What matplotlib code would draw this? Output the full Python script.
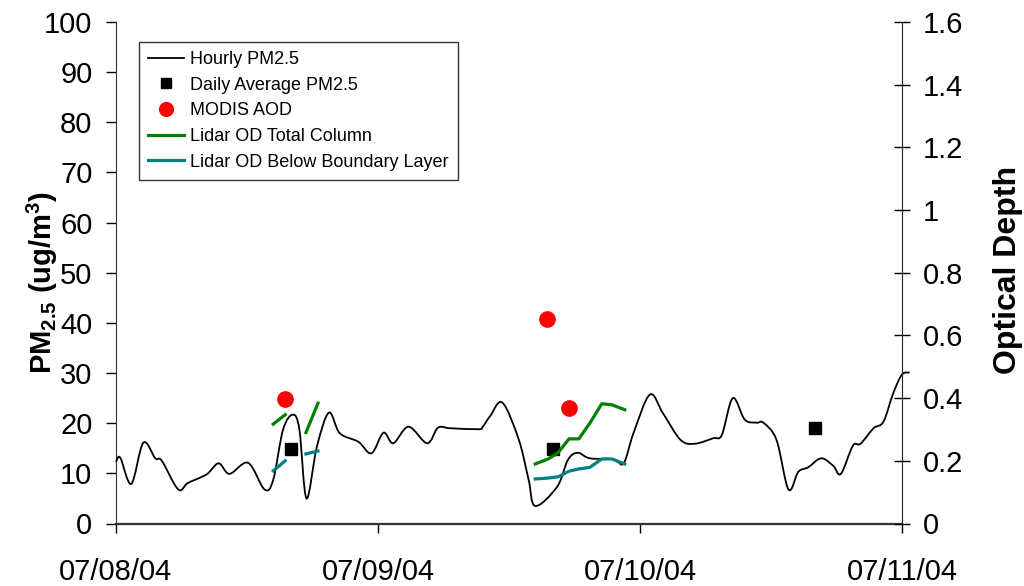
import numpy as np
import matplotlib
matplotlib.use("Agg")
import matplotlib.pyplot as plt
from matplotlib.path import Path
from matplotlib.patches import PathPatch
from matplotlib.lines import Line2D

plt.rcParams['font.family'] = ['Liberation Sans', 'DejaVu Sans']
plt.rcParams['mathtext.fontset'] = 'custom'
plt.rcParams['mathtext.rm'] = 'Liberation Sans:bold'
plt.rcParams['mathtext.default'] = 'rm'

# hours since 07/08/04 00:00
hourly_t = [0.0, 0.4, 1.4, 2.5, 3.6, 4.2, 5.7, 6.6, 8.3, 9.4, 10.4, 12.1, 13.6, 14.4,
            15.3, 16.2, 16.8, 17.45, 18.4, 19.5, 20.5, 22.2, 23.4, 24.5, 25.4, 26.8,
            28.5, 29.5, 30.6, 33.2, 33.6, 34.3, 35.4, 36.9, 37.8, 38.4, 40.4, 41.4,
            42.3, 43.4, 45.6, 46.5, 47.4, 48.9, 50.1, 51.7, 53.0, 54.7, 55.5, 56.5,
            57.6, 58.7, 59.3, 60.5, 61.6, 62.5, 63.4, 64.6, 65.7, 66.4, 67.5, 68.2,
            69.4, 70.3, 71.2, 72.0, 72.7]
hourly_pm = [12.3, 13.1, 7.9, 16.1, 13.0, 12.5, 6.8, 8.1, 9.8, 12.0, 9.9, 12.1, 6.8, 8.7,
             18.7, 21.7, 18.7, 5.0, 15.3, 22.1, 18.0, 16.3, 14.0, 18.1, 16.0, 19.3,
             16.0, 19.1, 19.0, 18.8, 19.3, 21.5, 24.1, 16.7, 8.7, 3.5, 7.3, 12.7,
             14.1, 13.0, 12.8, 12.0, 18.0, 25.7, 22.0, 16.7, 15.9, 17.0, 17.7, 25.0,
             20.7, 20.1, 20.1, 16.7, 6.8, 10.3, 11.2, 13.0, 11.5, 9.9, 15.5, 15.9,
             19.0, 20.3, 26.0, 29.7, 30.1]

daily_t = [16, 40, 64]
daily_pm = [14.8, 14.8, 19.1]

modis_t = [15.5, 39.5, 41.5]
modis_aod = [0.398, 0.653, 0.370]

nan = np.nan
lidar_t = [14.4, 15.5, nan, 17.4, 18.5, nan, 38.4, 39.6, 40.5, 41.5, 42.4, 43.4, 44.5, 45.4, 46.6]
lidar_total = [0.317, 0.347, nan, 0.290, 0.384, nan, 0.190, 0.206, 0.226, 0.270, 0.270,
               0.320, 0.382, 0.379, 0.363]
lidar_bl = [0.168, 0.200, nan, 0.222, 0.231, nan, 0.142, 0.145, 0.149, 0.167, 0.174,
            0.179, 0.206, 0.206, 0.190]

date_ticks = [0, 24, 48, 72]
date_labels = ['07/08/04', '07/09/04', '07/10/04', '07/11/04']


def smooth_path(x, y):
    # Catmull-Rom style bezier through the points (spreadsheet "smoothed line")
    p = np.column_stack([x, y])
    verts = [p[0]]
    codes = [Path.MOVETO]
    n = len(p)
    for i in range(n - 1):
        p0 = p[max(i - 1, 0)]
        p1 = p[i]
        p2 = p[i + 1]
        p3 = p[min(i + 2, n - 1)]
        c1 = p1 + (p2 - p0) / 6.0
        c2 = p2 - (p3 - p1) / 6.0
        verts += [c1, c2, p2]
        codes += [Path.CURVE4] * 3
    return Path(verts, codes)


fig = plt.figure(figsize=(10.24, 5.86), dpi=100)
ax = fig.add_axes([116/1024, 1 - 523.5/586, 786/1024, 501.5/586])
ax2 = ax.twinx()

ax.set_xlim(0, 72)
ax.set_ylim(0, 100)
ax2.set_ylim(0, 1.6)

hourly = PathPatch(smooth_path(hourly_t, hourly_pm), facecolor='none', edgecolor='black',
                   lw=1.3, clip_on=False, zorder=3)
ax.add_patch(hourly)
sq, = ax.plot(daily_t, daily_pm, ls='none', marker='s', ms=8, color='black', zorder=4)

tot, = ax2.plot(lidar_t, lidar_total, color='#008000', lw=2.3, zorder=3)
bl, = ax2.plot(lidar_t, lidar_bl, color='#008080', lw=2.3, zorder=3)
dots, = ax2.plot(modis_t, modis_aod, ls='none', marker='o', ms=11, color='#ff0000', zorder=4)

ax.set_yticks(np.arange(0, 101, 10))
ax2.set_yticks(np.arange(0, 1.61, 0.2))
ax2.set_yticklabels(['0', '0.2', '0.4', '0.6', '0.8', '1', '1.2', '1.4', '1.6'])
ax.set_xticks(date_ticks)
ax.set_xticklabels(date_labels)

ax.tick_params(axis='y', direction='out', length=7, width=1, labelsize=21, pad=10)
ax.tick_params(axis='x', direction='out', length=6.5, width=1, labelsize=21, pad=18)
ax2.tick_params(axis='y', direction='inout', length=12, width=1, labelsize=21, pad=9)

for s in ['top', 'right']:
    ax.spines[s].set_visible(False)
for s in ['top', 'left', 'bottom']:
    ax2.spines[s].set_visible(False)
ax.spines['left'].set_color('#333333')
ax.spines['bottom'].set_color('#333333')
ax.spines['bottom'].set_linewidth(1.6)
ax2.spines['right'].set_color('#222222')

ax.set_ylabel('PM$_{2.5}$ (ug/m$^{3}$)', fontsize=21, fontweight='bold',
              va='center', ha='center')
ax.yaxis.set_label_coords(-0.094, 0.48)
ax2.set_ylabel('Optical Depth', fontsize=23, fontweight='bold', rotation=90,
               va='center', ha='center')
ax2.yaxis.set_label_coords(1.135, 0.505)

hourly_proxy = Line2D([], [], color='black', lw=1.3)
leg = ax2.legend([hourly_proxy, sq, dots, tot, bl],
                 ['Hourly PM2.5', 'Daily Average PM2.5', 'MODIS AOD',
                  'Lidar OD Total Column', 'Lidar OD Below Boundary Layer'],
                 loc='upper left', bbox_to_anchor=(0.029, 0.96), borderaxespad=0,
                 fontsize=13, frameon=True, fancybox=False, edgecolor='black',
                 handlelength=2.0, handletextpad=0.35, labelspacing=0.48, borderpad=0.5,
                 numpoints=1, markerscale=0.9)
leg.get_frame().set_linewidth(1.0)

fig.savefig('out.png', dpi=100)
